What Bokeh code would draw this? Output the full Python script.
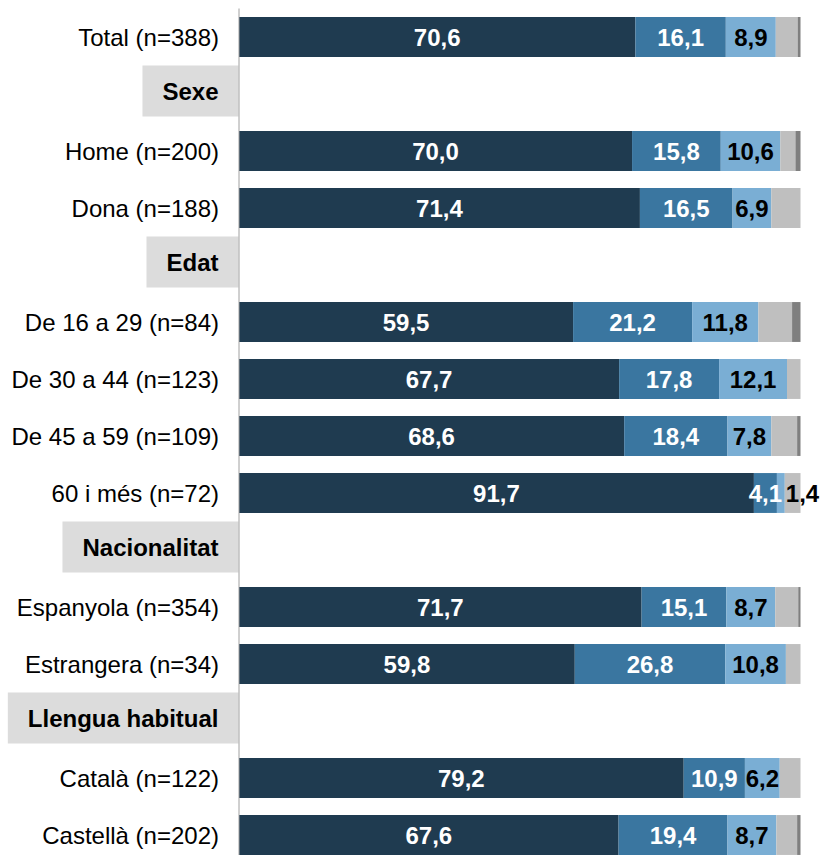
from bokeh.plotting import figure
from bokeh.models import ColumnDataSource, Range1d
from bokeh.core.properties import value
from bokeh.embed import file_html
from bokeh.resources import INLINE

# ---- data ----
rows = ["Total (n=388)", "Sexe", "Home (n=200)", "Dona (n=188)", "Edat",
        "De 16 a 29 (n=84)", "De 30 a 44 (n=123)", "De 45 a 59 (n=109)", "60 i més (n=72)",
        "Nacionalitat", "Espanyola (n=354)", "Estrangera (n=34)",
        "Llengua habitual", "Català (n=122)", "Castellà (n=202)"]
headers = ["Sexe", "Edat", "Nacionalitat", "Llengua habitual"]

s1 = [70.6, 70.0, 71.4, 59.5, 67.7, 68.6, 91.7, 71.7, 59.8, 79.2, 67.6]
s2 = [16.1, 15.8, 16.5, 21.2, 17.8, 18.4, 4.1, 15.1, 26.8, 10.9, 19.4]
s3 = [8.9, 10.6, 6.9, 11.8, 12.1, 7.8, 1.4, 8.7, 10.8, 6.2, 8.7]
s4 = [3.9, 2.7, 5.2, 6.0, 2.4, 4.6, 2.8, 4.1, 2.6, 3.7, 3.7]
s5 = [0.5, 0.9, 0.0, 1.5, 0.0, 0.6, 0.0, 0.4, 0.0, 0.0, 0.6]

colors = ["#1f3b50", "#3a76a0", "#7aaed4", "#bfbfbf", "#7f7f7f"]
label_colors = ["white", "white", "black"]

FONT = value("Liberation Sans")
FS = value("24px")

W, H = 821, 855
ZERO_PX, HUNDRED_PX = 238.5, 800.0
ROW_PX, TOP_PX = 57.0, 8.0
scale = (HUNDRED_PX - ZERO_PX) / 100.0

data_rows = [r for r in rows if r not in headers]
data_y = [rows.index(r) for r in data_rows]
header_y = [rows.index(h) for h in headers]

src = ColumnDataSource(dict(y=data_y, s1=s1, s2=s2, s3=s3, s4=s4, s5=s5))

top = -0.5 - TOP_PX / ROW_PX
p = figure(width=W, height=H, output_backend="svg", toolbar_location=None,
           x_range=Range1d(-ZERO_PX / scale, 100 + (W - HUNDRED_PX) / scale),
           y_range=Range1d(top + H / ROW_PX, top),
           min_border=0, outline_line_color=None)
p.axis.visible = False
p.grid.visible = False
p.background_fill_color = "white"

p.hbar_stack(["s1", "s2", "s3", "s4", "s5"], y="y", height=0.70, color=colors,
             line_color=None, source=src)

# value labels
cx, cy, ct, cc = [], [], [], []
lx, ly, lt, lc = [], [], [], []
for i, yv in enumerate(data_y):
    left = 0.0
    for k, ser in enumerate([s1, s2, s3]):
        v = ser[i]
        txt = f"{v:.1f}".replace(".", ",")
        if v < 2:
            lx.append(left + v); ly.append(yv); lt.append(txt); lc.append(label_colors[k])
        else:
            cx.append(left + v / 2); cy.append(yv); ct.append(txt); cc.append(label_colors[k])
        left += v

p.text(x="x", y="y", text="t", text_color="c", source=ColumnDataSource(dict(x=cx, y=cy, t=ct, c=cc)),
       text_font=FONT, text_font_size=FS, text_font_style="bold",
       text_align="center", text_baseline="middle")
p.text(x="x", y="y", text="t", text_color="c", source=ColumnDataSource(dict(x=lx, y=ly, t=lt, c=lc)),
       text_font=FONT, text_font_size=FS, text_font_style="bold",
       text_align="left", text_baseline="middle", x_offset=1)

# row labels
p.text(x="x", y="y", text="t", source=ColumnDataSource(dict(x=[0] * len(data_rows), y=data_y, t=data_rows)),
       text_font=FONT, text_font_size=FS, text_color="black",
       text_align="right", text_baseline="middle", x_offset=-20)

# header labels with grey boxes
p.text(x="x", y="y", text="t", source=ColumnDataSource(dict(x=[0] * len(headers), y=header_y, t=headers)),
       text_font=FONT, text_font_size=FS, text_font_style="bold", text_color="black",
       text_align="right", text_baseline="middle", x_offset=-0.5, y_offset=-3,
       background_fill_color="#dcdcdc", padding=(20, 12))

# vertical axis line (starts at the top of the first row band)
p.segment(x0=[0], y0=[-0.5], x1=[0], y1=[len(rows)], line_color="#a0a0a0", line_width=1)

open("out.html", "w").write(file_html(p, INLINE))
